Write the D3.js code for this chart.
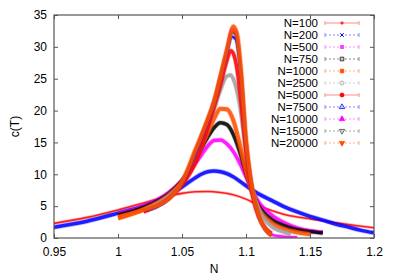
<!DOCTYPE html>
<html>
<head>
<meta charset="utf-8">
<script src="https://cdn.jsdelivr.net/npm/d3@7"></script>
<style>
  body { margin: 0; background: #fff; }
  svg { font-family: "Liberation Sans", Arial, sans-serif; }
  .axis text { font-size: 12px; fill: #000; }
</style>
</head>
<body>
<div id="chart"></div>
<script>
// series labels and styles
var labels = ["N=100", "N=200", "N=500", "N=750", "N=1000", "N=2500", "N=5000", "N=7500", "N=10000", "N=15000", "N=20000"]
var colors = ["#ff0000", "#0000ff", "#ff00ff", "#000000", "#ff5000", "#a0a0a0", "#ff0000", "#0000ff", "#ff00ff", "#404040", "#ff5000"]
var widths = [1.6, 3.5, 3.5, 3.5, 4, 3.5, 3.5, 2.5, 2.5, 2.5, 4]
var points = ["plus", "cross", "star", "square", "squareF", "circle", "circleF", "tri", "triF", "itri", "itriF"]

var xTicks = [0.95, 1, 1.05, 1.1, 1.15, 1.2]
var yTicks = [0, 5, 10, 15, 20, 25, 30, 35]

// values (N, c(T))
var n100x = [0.95, 0.975, 1.0, 1.02, 1.04, 1.05, 1.06, 1.07, 1.08, 1.09, 1.1, 1.11, 1.12, 1.13, 1.14, 1.15, 1.16, 1.17, 1.18, 1.19, 1.2]
var n100y = [2.3, 3.2, 4.4, 5.5, 6.6, 7.0, 7.25, 7.3, 7.15, 6.8, 6.1, 5.1, 4.3, 3.7, 3.3, 3.0, 2.7, 2.4, 2.1, 1.85, 1.6]

var n200x = [0.95, 0.975, 1.0, 1.02, 1.03, 1.04, 1.05, 1.06, 1.065, 1.07, 1.075, 1.08, 1.085, 1.09, 1.1, 1.11, 1.12, 1.13, 1.14, 1.15, 1.16, 1.17, 1.18, 1.19, 1.2]
var n200y = [1.7, 2.6, 3.9, 5.0, 5.7, 6.7, 8.0, 9.4, 10.0, 10.4, 10.5, 10.4, 10.1, 9.6, 8.2, 6.9, 5.9, 4.9, 4.1, 3.4, 2.8, 2.2, 1.7, 1.2, 0.8]

var n500x = [1.0, 1.02, 1.04, 1.05, 1.06, 1.065, 1.07, 1.075, 1.08, 1.085, 1.09, 1.095, 1.1, 1.105, 1.11, 1.12, 1.13, 1.14, 1.15, 1.16]
var n500y = [3.8, 5.0, 7.2, 9.0, 11.6, 13.0, 14.4, 15.3, 15.4, 14.8, 13.6, 11.8, 9.6, 7.4, 5.6, 3.6, 2.4, 1.6, 1.15, 0.9]

var n750x = [1.0, 1.02, 1.04, 1.05, 1.06, 1.065, 1.07, 1.075, 1.08, 1.085, 1.09, 1.095, 1.1, 1.105, 1.11, 1.12, 1.13, 1.14, 1.15, 1.16]
var n750y = [3.6, 4.8, 7.0, 9.0, 12.0, 14.0, 15.8, 17.3, 18.1, 17.8, 16.3, 13.6, 10.2, 7.2, 5.0, 2.9, 1.9, 1.3, 1.0, 0.8]

var n1000x = [1.0, 1.02, 1.04, 1.05, 1.06, 1.065, 1.07, 1.075, 1.08, 1.085, 1.09, 1.095, 1.1, 1.105, 1.11, 1.12, 1.13, 1.14, 1.15]
var n1000y = [3.1, 4.5, 6.8, 8.8, 12.0, 14.2, 16.5, 18.7, 20.3, 20.2, 18.5, 14.8, 10.5, 7.0, 4.6, 2.4, 1.4, 0.9, 0.6]

var n2500x = [1.02, 1.04, 1.05, 1.06, 1.065, 1.07, 1.075, 1.08, 1.085, 1.088, 1.09, 1.095, 1.1, 1.105, 1.11, 1.115, 1.12, 1.13, 1.135]
var n2500y = [4.4, 6.6, 8.6, 12.0, 14.5, 17.2, 20.2, 23.2, 25.4, 25.6, 25.0, 21.0, 13.5, 7.8, 4.5, 2.8, 1.8, 0.9, 0.6]

var n5000x = [1.02, 1.03, 1.04, 1.05, 1.06, 1.065, 1.07, 1.075, 1.08, 1.085, 1.088, 1.09, 1.093, 1.096, 1.1, 1.103, 1.106, 1.11, 1.115, 1.12]
var n5000y = [4.1, 5.0, 6.3, 8.3, 11.6, 14.2, 17.2, 20.5, 24.0, 27.8, 29.4, 29.0, 26.5, 21.5, 13.5, 9.0, 5.8, 3.3, 1.6, 0.7]

var n7500x = [1.02, 1.04, 1.05, 1.06, 1.065, 1.07, 1.075, 1.08, 1.085, 1.089, 1.092, 1.096, 1.1, 1.103, 1.106, 1.11, 1.115, 1.12]
var n7500y = [4.3, 6.2, 8.6, 13.0, 15.6, 18.2, 21.2, 25.0, 28.9, 31.6, 31.2, 25.5, 15.0, 10.0, 6.4, 3.4, 1.4, 0.4]

var n10000x = [1.02, 1.04, 1.05, 1.06, 1.065, 1.07, 1.075, 1.08, 1.085, 1.089, 1.092, 1.096, 1.1, 1.103, 1.106, 1.11, 1.115, 1.12, 1.13, 1.14]
var n10000y = [4.3, 6.2, 8.7, 13.3, 15.9, 18.5, 21.5, 25.3, 29.3, 32.8, 32.4, 26.0, 15.0, 10.0, 6.3, 3.3, 1.3, 0.5, 0.2, 0.1]

var n15000x = [1.02, 1.04, 1.05, 1.06, 1.065, 1.07, 1.075, 1.08, 1.085, 1.089, 1.092, 1.096, 1.1, 1.103, 1.106, 1.11, 1.115, 1.12]
var n15000y = [4.3, 6.2, 8.7, 13.4, 16.0, 18.6, 21.5, 25.4, 29.4, 32.3, 31.9, 26.0, 15.0, 10.0, 6.4, 3.4, 1.4, 0.4]

var n20000x = [1.0, 1.02, 1.04, 1.05, 1.055, 1.06, 1.065, 1.07, 1.075, 1.08, 1.085, 1.088, 1.09, 1.093, 1.096, 1.1, 1.103, 1.106, 1.11, 1.115, 1.12]
var n20000y = [3.3, 4.4, 6.2, 8.8, 11.0, 13.6, 16.0, 18.6, 21.4, 25.4, 29.5, 32.0, 33.2, 32.0, 26.5, 15.5, 10.2, 6.6, 3.5, 1.4, 0.4]

var seriesX = [n100x, n200x, n500x, n750x, n1000x, n2500x, n5000x, n7500x, n10000x, n15000x, n20000x]
var seriesY = [n100y, n200y, n500y, n750y, n1000y, n2500y, n5000y, n7500y, n10000y, n15000y, n20000y]

var margin = {top: 15, right: 19, bottom: 37, left: 54},
    width = 393 - margin.left - margin.right,
    height = 275 - margin.top - margin.bottom

var svg = d3.select("#chart")
  .append("svg")
  .attr("width", 393)
  .attr("height", 275)

var g = svg.append("g")
  .attr("transform", "translate(" + margin.left + "," + margin.top + ")")

var x_scale = d3.scaleLinear().domain([0.95, 1.2]).range([0, width])
var y_scale = d3.scaleLinear().domain([0, 35]).range([height, 0])

// axes, gnuplot style: ticks inside, mirrored
g.append("g")
  .attr("class", "axis")
  .attr("transform", "translate(0," + height + ")")
  .call(d3.axisBottom(x_scale).tickValues(xTicks).tickSize(-4).tickPadding(9).tickFormat(d3.format("")))
g.append("g")
  .attr("class", "axis")
  .call(d3.axisLeft(y_scale).tickValues(yTicks).tickSize(-4).tickPadding(7))
g.append("g")
  .attr("class", "axis mirror")
  .call(d3.axisTop(x_scale).tickValues(xTicks).tickSize(-4).tickFormat(""))
g.append("g")
  .attr("class", "axis mirror")
  .attr("transform", "translate(" + width + ",0)")
  .call(d3.axisRight(y_scale).tickValues(yTicks).tickSize(-4).tickFormat(""))

g.selectAll(".axis .domain").remove()
g.selectAll(".axis line").attr("stroke", "#555")

var clip = svg.append("clipPath").attr("id", "clip")
  .append("rect").attr("width", width).attr("height", height)

var line = d3.line()
  .curve(d3.curveMonotoneX)
  .x(function(d) { return x_scale(d[0]) })
  .y(function(d) { return y_scale(d[1]) })

var plot = g.append("g").attr("clip-path", "url(#clip)")

for (var i = 0; i < labels.length; i++) {
  var pts = seriesX[i].map(function(v, k) { return [v, seriesY[i][k]] })
  // soft halo, like the dense marker band
  plot.append("path")
    .attr("d", line(pts))
    .attr("fill", "none")
    .attr("stroke", colors[i])
    .attr("stroke-opacity", 0.25)
    .attr("stroke-width", widths[i] + 1.5)
    .attr("stroke-linejoin", "round")
  plot.append("path")
    .attr("d", line(pts))
    .attr("fill", "none")
    .attr("stroke", colors[i])
    .attr("stroke-opacity", 0.85)
    .attr("stroke-width", widths[i])
    .attr("stroke-linejoin", "round")
}

// frame
g.append("rect")
  .attr("width", width)
  .attr("height", height)
  .attr("fill", "none")
  .attr("stroke", "#555")
  .attr("stroke-width", 1.2)

// marker shapes for the key
function marker (sel, kind, c) {
  var s = 1.8
  if (kind == "plus") {
    sel.append("path").attr("d", "M" + (-s) + ",0H" + s + "M0," + (-s) + "V" + s).attr("stroke", c).attr("fill", "none")
  } else if (kind == "cross") {
    sel.append("path").attr("d", "M" + (-s) + "," + (-s) + "L" + s + "," + s + "M" + (-s) + "," + s + "L" + s + "," + (-s)).attr("stroke", c).attr("fill", "none")
  } else if (kind == "star") {
    sel.append("rect").attr("x", -2).attr("y", -2).attr("width", 4).attr("height", 4).attr("fill", c).attr("opacity", 0.7)
  } else {
    var type = {square: d3.symbolSquare, squareF: d3.symbolSquare, circle: d3.symbolCircle, circleF: d3.symbolCircle,
                tri: d3.symbolTriangle, triF: d3.symbolTriangle, itri: d3.symbolTriangle, itriF: d3.symbolTriangle}[kind]
    var filled = kind.slice(-1) == "F"
    var p = sel.append("path")
      .attr("d", d3.symbol().type(type).size(13)())
      .attr("fill", filled ? c : "none")
      .attr("stroke", c)
      .attr("stroke-width", 0.8)
    if (kind.indexOf("itri") == 0) p.attr("transform", "rotate(180)")
  }
}

var legend = svg.append("g")
var dashes = ["", "2,2", "2,2", "2,2", "2,2", "2,2", "", "2,2", "2,2", "2,2", "2,2"]

for (var i = 0; i < labels.length; i++) {
  var ly = 23 + i * 12
  legend.append("text")
    .attr("x", 318)
    .attr("y", ly + 4)
    .attr("text-anchor", "end")
    .attr("font-size", "11.5px")
    .attr("dominant-baseline", "auto")
    .text(labels[i])
  var row = legend.append("g").attr("opacity", 0.45)
  row.append("line")
    .attr("x1", 325).attr("x2", 359).attr("y1", ly).attr("y2", ly)
    .attr("stroke", colors[i]).attr("stroke-dasharray", dashes[i])
  row.append("path")
    .attr("d", "M325," + (ly - 2) + "V" + (ly + 2) + "M359," + (ly - 2) + "V" + (ly + 2))
    .attr("stroke", colors[i])
  var m = legend.append("g").attr("transform", "translate(342," + ly + ")")
  marker(m, points[i], colors[i])
}

// axis titles
svg.append("text")
  .attr("transform", "translate(19," + (margin.top + height / 2) + ") rotate(-90)")
  .attr("text-anchor", "middle")
  .attr("font-size", "12px")
  .text("c(T)")

svg.append("text")
  .attr("x", margin.left + width / 2)
  .attr("y", 273)
  .attr("text-anchor", "middle")
  .attr("font-size", "12px")
  .text("N")
</script>
</body>
</html>
